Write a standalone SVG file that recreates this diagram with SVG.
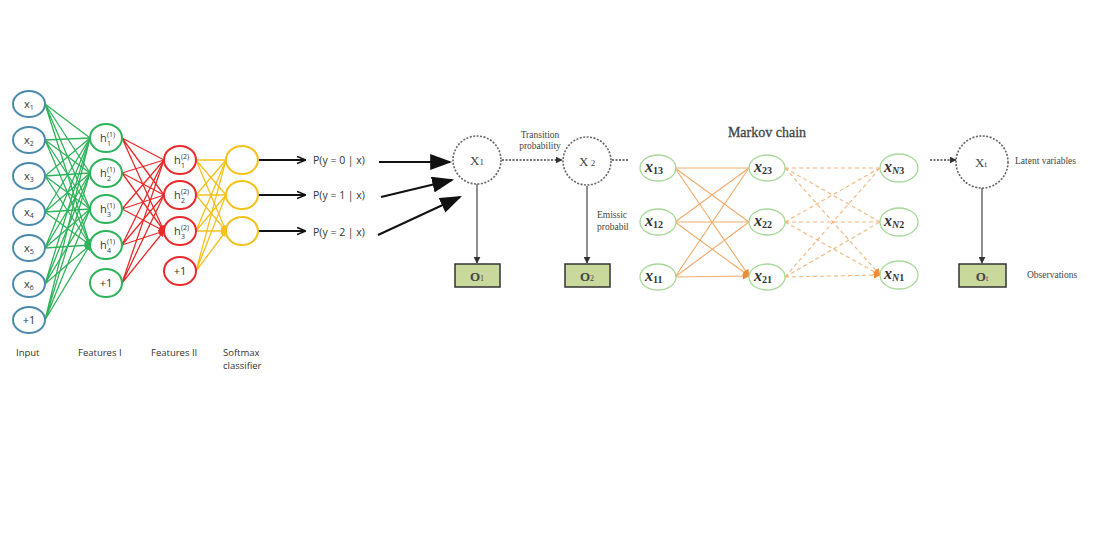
<svg xmlns="http://www.w3.org/2000/svg" width="1105" height="550" viewBox="0 0 1105 550">
<style>
.in{fill:#fff;stroke:#4a8aaa;stroke-width:2}
.f1{fill:#fff;stroke:#2fb35a;stroke-width:2}
.f2{fill:#fff;stroke:#e82a2a;stroke-width:2}
.sm{fill:#fff;stroke:#f5c21b;stroke-width:2}
.g{stroke:#2fb35a;stroke-width:1.3;fill:none}
.r{stroke:#e82a2a;stroke-width:1.3;fill:none}
.y{stroke:#f5c21b;stroke-width:1.3;fill:none}
.t{font-family:"Open Sans","Liberation Sans",sans-serif;fill:#333}
.nt{font-size:11px}
.sub{font-size:7px}
.lab{font-family:"Open Sans","Liberation Sans",sans-serif;font-size:9.5px;fill:#333}
.pt{font-family:"Open Sans","Liberation Sans",sans-serif;font-size:10.5px;fill:#333}
.dc{fill:#fff;stroke:#666;stroke-width:1.6;stroke-dasharray:2 1.5}
.ob{fill:#c9d99c;stroke:#333;stroke-width:1.5}
.serif{font-family:"Liberation Serif","Times New Roman",serif;fill:#444}
.mk{fill:#fff;stroke:#a8d89a;stroke-width:1.3}
.mx{font-family:"Liberation Serif","Times New Roman",serif;font-weight:bold;font-style:italic;font-size:16px;fill:#333}
.ms{font-size:10px}
.os{stroke:#f2ab6a;stroke-width:1.1;fill:none}
.od{stroke:#f5b47a;stroke-width:1.1;fill:none;stroke-dasharray:4 3}
</style>
<defs>
<marker id="ag" viewBox="0 0 10 10" refX="9" refY="5" markerWidth="6" markerHeight="6" orient="auto" markerUnits="userSpaceOnUse"><path d="M0,0L10,5L0,10z" fill="#2fb35a"/></marker>
<marker id="ar" viewBox="0 0 10 10" refX="9" refY="5" markerWidth="6" markerHeight="6" orient="auto" markerUnits="userSpaceOnUse"><path d="M0,0L10,5L0,10z" fill="#e82a2a"/></marker>
<marker id="ay" viewBox="0 0 10 10" refX="9" refY="5" markerWidth="6" markerHeight="6" orient="auto" markerUnits="userSpaceOnUse"><path d="M0,0L10,5L0,10z" fill="#f5c21b"/></marker>
<marker id="ab" viewBox="0 0 10 10" refX="9" refY="5" markerWidth="9" markerHeight="9" orient="auto" markerUnits="userSpaceOnUse"><path d="M0,1L10,5L0,9" fill="none" stroke="#111" stroke-width="1.8"/></marker>
<marker id="abig" viewBox="0 0 10 10" refX="9" refY="5" markerWidth="22" markerHeight="16" orient="auto" markerUnits="userSpaceOnUse" preserveAspectRatio="none"><path d="M0,0L10,5L0,10z" fill="#111"/></marker>
<marker id="ak" viewBox="0 0 10 10" refX="9" refY="5" markerWidth="7" markerHeight="7" orient="auto" markerUnits="userSpaceOnUse"><path d="M0,0L10,5L0,10z" fill="#333"/></marker>
<marker id="ao" viewBox="0 0 10 10" refX="9" refY="5" markerWidth="7" markerHeight="7" orient="auto" markerUnits="userSpaceOnUse"><path d="M0,0L10,5L0,10z" fill="#f08a35"/></marker>
</defs>
<rect width="1105" height="550" fill="#fff"/>
<g id="connectors">
<g class="g" marker-end="url(#ag)">
<path d="M45,104L90,138M45,104L90,173M45,104L90,209M45,104L90,245"/>
<path d="M45,140L90,138M45,140L90,173M45,140L90,209M45,140L90,245"/>
<path d="M45,176L90,138M45,176L90,173M45,176L90,209M45,176L90,245"/>
<path d="M45,212L90,138M45,212L90,173M45,212L90,209M45,212L90,245"/>
<path d="M45,248L90,138M45,248L90,173M45,248L90,209M45,248L90,245"/>
<path d="M45,284L90,138M45,284L90,173M45,284L90,209M45,284L90,245"/>
<path d="M45,320L90,138M45,320L90,173M45,320L90,209M45,320L90,245"/>
</g>
<g class="r" marker-end="url(#ar)">
<path d="M122,138L164,160M122,138L164,195M122,138L164,231"/>
<path d="M122,173L164,160M122,173L164,195M122,173L164,231"/>
<path d="M122,209L164,160M122,209L164,195M122,209L164,231"/>
<path d="M122,245L164,160M122,245L164,195M122,245L164,231"/>
<path d="M122,283L164,160M122,283L164,195M122,283L164,231"/>
</g>
<g class="y" marker-end="url(#ay)">
<path d="M196,160L226,160M196,160L226,195M196,160L226,231"/>
<path d="M196,195L226,160M196,195L226,195M196,195L226,231"/>
<path d="M196,231L226,160M196,231L226,195M196,231L226,231"/>
<path d="M196,271L226,160M196,271L226,195M196,271L226,231"/>
</g>
<g stroke="#111" stroke-width="2" fill="none" marker-end="url(#ab)">
<path d="M258,160L305,160"/>
<path d="M258,195L305,195"/>
<path d="M258,231L305,231"/>
</g>
<g stroke="#111" stroke-width="2" fill="none" marker-end="url(#abig)">
<path d="M379,162L450,162"/>
<path d="M381,197L452,180"/>
<path d="M378,235L460,197"/>
</g>
<g stroke="#444" stroke-width="1.6" fill="none" stroke-dasharray="2 1.5" marker-end="url(#ak)">
<path d="M502,160L562,160"/>
<path d="M930,160L956,160"/>
</g>
<path d="M612,160L628,160" stroke="#444" stroke-width="1.6" stroke-dasharray="2 1.5" fill="none"/>
<g stroke="#444" stroke-width="1.2" fill="none" marker-end="url(#ak)">
<path d="M477,184L477,263"/>
<path d="M587,186L587,263"/>
<path d="M982,188L982,263"/>
</g>
<g class="os" marker-end="url(#ao)">
<path d="M675,168L749,168M675,168L749,222M675,168L749,276"/>
<path d="M675,222L749,168M675,222L749,222M675,222L749,276"/>
<path d="M675,277L749,168M675,277L749,222M675,277L749,276"/>
</g>
<g class="od" marker-end="url(#ao)">
<path d="M785,168L880,168M785,168L880,222M785,168L880,275"/>
<path d="M785,222L880,168M785,222L880,222M785,222L880,275"/>
<path d="M785,277L880,168M785,277L880,222M785,277L880,275"/>
</g>
</g>
<g id="input">
<g id="in1"><ellipse class="in" cx="29" cy="104" rx="16" ry="13"/><text class="t nt" x="24" y="108">x<tspan class="sub" dy="2">1</tspan></text></g>
<g id="in2"><ellipse class="in" cx="29" cy="140" rx="16" ry="13"/><text class="t nt" x="24" y="144">x<tspan class="sub" dy="2">2</tspan></text></g>
<g id="in3"><ellipse class="in" cx="29" cy="176" rx="16" ry="13"/><text class="t nt" x="24" y="180">x<tspan class="sub" dy="2">3</tspan></text></g>
<g id="in4"><ellipse class="in" cx="29" cy="212" rx="16" ry="13"/><text class="t nt" x="24" y="216">x<tspan class="sub" dy="2">4</tspan></text></g>
<g id="in5"><ellipse class="in" cx="29" cy="248" rx="16" ry="13"/><text class="t nt" x="24" y="252">x<tspan class="sub" dy="2">5</tspan></text></g>
<g id="in6"><ellipse class="in" cx="29" cy="284" rx="16" ry="13"/><text class="t nt" x="24" y="288">x<tspan class="sub" dy="2">6</tspan></text></g>
<g id="in7"><ellipse class="in" cx="29" cy="320" rx="16" ry="13"/><text class="t nt" x="29" y="324" text-anchor="middle">+1</text></g>
</g>
<g id="features1">
<g id="f1a"><ellipse class="f1" cx="106" cy="138" rx="16" ry="14"/><text class="t nt" x="100" y="142">h</text><text class="t sub" x="107" y="137">(1)</text><text class="t sub" x="107" y="146">1</text></g>
<g id="f1b"><ellipse class="f1" cx="106" cy="173" rx="16" ry="14"/><text class="t nt" x="100" y="177">h</text><text class="t sub" x="107" y="172">(1)</text><text class="t sub" x="107" y="181">2</text></g>
<g id="f1c"><ellipse class="f1" cx="106" cy="209" rx="16" ry="14"/><text class="t nt" x="100" y="213">h</text><text class="t sub" x="107" y="208">(1)</text><text class="t sub" x="107" y="217">3</text></g>
<g id="f1d"><ellipse class="f1" cx="106" cy="245" rx="16" ry="14"/><text class="t nt" x="100" y="249">h</text><text class="t sub" x="107" y="244">(1)</text><text class="t sub" x="107" y="253">4</text></g>
<g id="f1e"><ellipse class="f1" cx="106" cy="283" rx="16" ry="14"/><text class="t nt" x="106" y="287" text-anchor="middle">+1</text></g>
</g>
<g id="features2">
<g id="f2a"><ellipse class="f2" cx="180" cy="160" rx="16" ry="14"/><text class="t nt" x="174" y="164">h</text><text class="t sub" x="181" y="159">(2)</text><text class="t sub" x="181" y="168">1</text></g>
<g id="f2b"><ellipse class="f2" cx="180" cy="195" rx="16" ry="14"/><text class="t nt" x="174" y="199">h</text><text class="t sub" x="181" y="194">(2)</text><text class="t sub" x="181" y="203">2</text></g>
<g id="f2c"><ellipse class="f2" cx="180" cy="231" rx="16" ry="14"/><text class="t nt" x="174" y="235">h</text><text class="t sub" x="181" y="230">(2)</text><text class="t sub" x="181" y="239">3</text></g>
<g id="f2d"><ellipse class="f2" cx="180" cy="271" rx="16" ry="14"/><text class="t nt" x="180" y="275" text-anchor="middle">+1</text></g>
</g>
<g id="softmax">
<g id="s1"><ellipse class="sm" cx="242" cy="160" rx="16" ry="14"/></g>
<g id="s2"><ellipse class="sm" cx="242" cy="195" rx="16" ry="14"/></g>
<g id="s3"><ellipse class="sm" cx="242" cy="231" rx="16" ry="14"/></g>
</g>
<g id="labels">
<text class="lab" x="16" y="356">Input</text>
<text class="lab" x="78" y="356">Features I</text>
<text class="lab" x="151" y="356">Features II</text>
<text class="lab" x="223" y="356">Softmax</text>
<text class="lab" x="223" y="369">classifier</text>
</g>
<g id="probs">
<text class="pt" x="313" y="164">P(y = 0  |  x)</text>
<text class="pt" x="313" y="199">P(y = 1  |  x)</text>
<text class="pt" x="313" y="236">P(y = 2  |  x)</text>
</g>
<g id="hmm">
<g id="X1"><circle class="dc" cx="477" cy="160" r="24"/><text class="serif" x="470" y="165" font-size="13">X<tspan font-size="9">1</tspan></text></g>
<g id="X2"><circle class="dc" cx="587" cy="161" r="24"/><text class="serif" x="579" y="166" font-size="13">X<tspan font-size="9"> 2</tspan></text></g>
<g id="Xt"><circle class="dc" cx="982" cy="162" r="26"/><text class="serif" x="975" y="167" font-size="13">X<tspan font-size="9">t</tspan></text></g>
<g id="O1"><rect class="ob" x="455" y="264" width="45" height="23"/><text class="serif" x="477" y="281" font-size="13" font-weight="bold" text-anchor="middle">O<tspan font-size="8" font-weight="normal">1</tspan></text></g>
<g id="O2"><rect class="ob" x="565" y="264" width="45" height="23"/><text class="serif" x="587" y="281" font-size="13" font-weight="bold" text-anchor="middle">O<tspan font-size="8" font-weight="normal">2</tspan></text></g>
<g id="Ot"><rect class="ob" x="959" y="264" width="47" height="23"/><text class="serif" x="982" y="281" font-size="13" font-weight="bold" text-anchor="middle">O<tspan font-size="8" font-weight="normal">t</tspan></text></g>
<text class="serif" x="540" y="138" font-size="9.5" text-anchor="middle">Transition</text>
<text class="serif" x="540" y="149" font-size="9.5" text-anchor="middle">probability</text>
<text class="serif" x="597" y="218" font-size="9.5">Emissic</text>
<text class="serif" x="597" y="230" font-size="9.5">probabil</text>
<text class="serif" x="1015" y="164" font-size="9.5">Latent  variables</text>
<text class="serif" x="1027" y="278" font-size="9.5">Observations</text>
</g>
<g id="markov">
<text class="serif" x="767" y="137" font-size="14" text-anchor="middle" fill="#444" stroke="#444" stroke-width="0.3">Markov  chain</text>
<g id="x13"><ellipse class="mk" cx="658" cy="168" rx="18" ry="13"/><text class="mx" x="645" y="172">x<tspan class="ms" dy="2" font-style="normal">13</tspan></text></g>
<g id="x12"><ellipse class="mk" cx="658" cy="222" rx="18" ry="13"/><text class="mx" x="645" y="226">x<tspan class="ms" dy="2" font-style="normal">12</tspan></text></g>
<g id="x11"><ellipse class="mk" cx="658" cy="277" rx="18" ry="13"/><text class="mx" x="645" y="281">x<tspan class="ms" dy="2" font-style="normal">11</tspan></text></g>
<g id="x23"><ellipse class="mk" cx="767" cy="168" rx="18" ry="13"/><text class="mx" x="754" y="172">x<tspan class="ms" dy="2" font-style="normal">23</tspan></text></g>
<g id="x22"><ellipse class="mk" cx="767" cy="222" rx="18" ry="13"/><text class="mx" x="754" y="226">x<tspan class="ms" dy="2" font-style="normal">22</tspan></text></g>
<g id="x21"><ellipse class="mk" cx="767" cy="277" rx="18" ry="13"/><text class="mx" x="754" y="281">x<tspan class="ms" dy="2" font-style="normal">21</tspan></text></g>
<g id="xN3"><ellipse class="mk" cx="899" cy="168" rx="19" ry="14"/><text class="mx" x="884" y="172">x<tspan class="ms" dy="2">N</tspan><tspan class="ms" font-style="normal">3</tspan></text></g>
<g id="xN2"><ellipse class="mk" cx="899" cy="222" rx="19" ry="14"/><text class="mx" x="884" y="226">x<tspan class="ms" dy="2">N</tspan><tspan class="ms" font-style="normal">2</tspan></text></g>
<g id="xN1"><ellipse class="mk" cx="899" cy="275" rx="19" ry="14"/><text class="mx" x="884" y="279">x<tspan class="ms" dy="2">N</tspan><tspan class="ms" font-style="normal">1</tspan></text></g>
</g>
</svg>
